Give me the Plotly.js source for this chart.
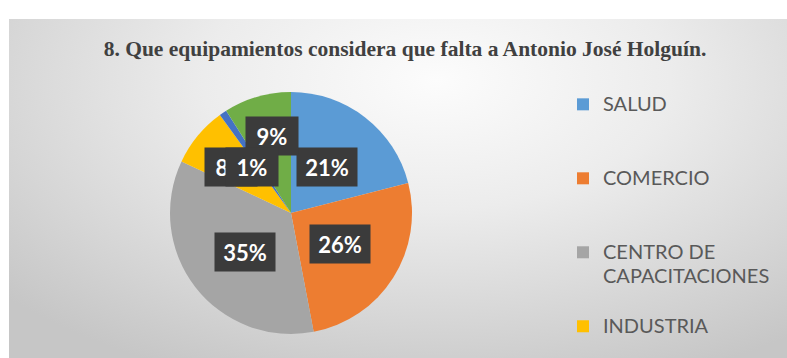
<!DOCTYPE html>
<html>
<head>
<meta charset="utf-8">
<script src="https://cdn.plot.ly/plotly-3.0.1.min.js"></script>
<style>
  html, body { margin:0; padding:0; background:#ffffff; }
  #wrap { position:relative; width:787px; height:358px; overflow:hidden; }
  #bg { position:absolute; left:9px; top:19px; width:778px; height:339px;
        background: radial-gradient(ellipse 75% 95% at 55% 18%, #fcfcfc 0%, #ececec 40%, #d6d6d6 75%, #c6c6c6 100%); }
  #chart { position:absolute; left:0; top:0; width:787px; height:358px; }
  .legend .scrollbar { display:none; }
</style>
</head>
<body>
<div id="wrap"><div id="bg"></div><div id="chart"></div></div>
<script>
// ---- data ----
const categories = ['SALUD', 'COMERCIO', 'CENTRO DE CAPACITACIONES', 'INDUSTRIA', 'SEGURIDAD', 'RECREACIÓN'];
const values = [21, 26, 35, 8, 1, 9];
const colors = ['#5B9BD5', '#ED7D31', '#A5A5A5', '#FFC000', '#4472C4', '#70AD47'];
const titleText = '8. Que equipamientos considera que falta a Antonio José Holguín.';

// ---- layout / style config ----
const W = 787, H = 358;
const pieDomain = { x: [170 / W, 412 / W], y: [(H - 334) / H, (H - 92) / H] };
const labelRadius = 0.48;
// pixel nudges (dx right, dy down) mimicking the reference's label collision handling
const labelNudge = [[0, 0], [0, 0], [0, 3], [-15, -9], [-6, 2], [-3, -21]];
const drawOrder = [0, 1, 2, 5, 3, 4];

function wrapLabel(s, maxLen, lines) {
  const words = s.split(' ');
  const out = [];
  let cur = '';
  words.forEach(w => {
    if (cur && (cur + ' ' + w).length > maxLen) { out.push(cur); cur = w; }
    else cur = cur ? cur + ' ' + w : w;
  });
  if (cur) out.push(cur);
  const shown = out.map(l => '<span style="font-size:20px">' + l + '</span>');
  while (shown.length < lines) shown.push(' ');
  return shown.join('<br>');
}
const legendLabels = categories.map(c => wrapLabel(c, 14, 3));

const trace = {
  type: 'pie',
  labels: legendLabels,
  values: values,
  marker: { colors: colors, line: { width: 0 } },
  sort: false,
  direction: 'clockwise',
  rotation: 0,
  textinfo: 'none',
  hoverinfo: 'label+percent',
  domain: pieDomain
};

// label boxes placed at the slice mid-angles computed from the data
const total = values.reduce((a, b) => a + b, 0);
const cx = (pieDomain.x[0] + pieDomain.x[1]) / 2 * W;
const cy = (1 - (pieDomain.y[0] + pieDomain.y[1]) / 2) * H;
const R = Math.min((pieDomain.x[1] - pieDomain.x[0]) * W, (pieDomain.y[1] - pieDomain.y[0]) * H) / 2;
const mids = [];
let cum = 0;
values.forEach(v => { mids.push((cum + v / 2) / total * 2 * Math.PI); cum += v; });

const annotations = drawOrder.map(i => {
  const a = mids[i];
  const px = cx + labelRadius * R * Math.sin(a) + labelNudge[i][0];
  const py = cy - labelRadius * R * Math.cos(a) + labelNudge[i][1];
  const txt = Math.round(values[i] / total * 100) + '%';
  return {
    xref: 'paper', yref: 'paper',
    x: px / W, y: 1 - py / H,
    xanchor: 'center', yanchor: 'middle',
    text: txt,
    showarrow: false,
    font: { family: 'Lato, "Open Sans", sans-serif', size: 22, color: '#ffffff', weight: 'bold' },
    bgcolor: '#3b3b3b',
    width: txt.length > 2 ? 58 : 50,
    height: 36,
    borderpad: 1
  };
});

const layout = {
  width: W, height: H,
  margin: { l: 0, r: 0, t: 0, b: 0 },
  paper_bgcolor: 'rgba(0,0,0,0)',
  plot_bgcolor: 'rgba(0,0,0,0)',
  title: {
    text: '<b>' + titleText + '</b>',
    x: 405 / W, xanchor: 'center',
    y: 1 - 48 / H, yanchor: 'middle',
    font: { family: '"Liberation Serif", "Times New Roman", serif', size: 21.5, color: '#404040' }
  },
  showlegend: true,
  legend: {
    x: 563 / W, xanchor: 'left',
    y: 1 - 86 / H, yanchor: 'top',
    valign: 'top',
    bgcolor: 'rgba(0,0,0,0)',
    font: { family: 'Lato, "Open Sans", sans-serif', size: 18.2, color: '#595959' },
    maxheight: 262
  },
  annotations: annotations
};

Plotly.newPlot('chart', [trace], layout, { displayModeBar: false, staticPlot: true });
</script>
</body>
</html>
